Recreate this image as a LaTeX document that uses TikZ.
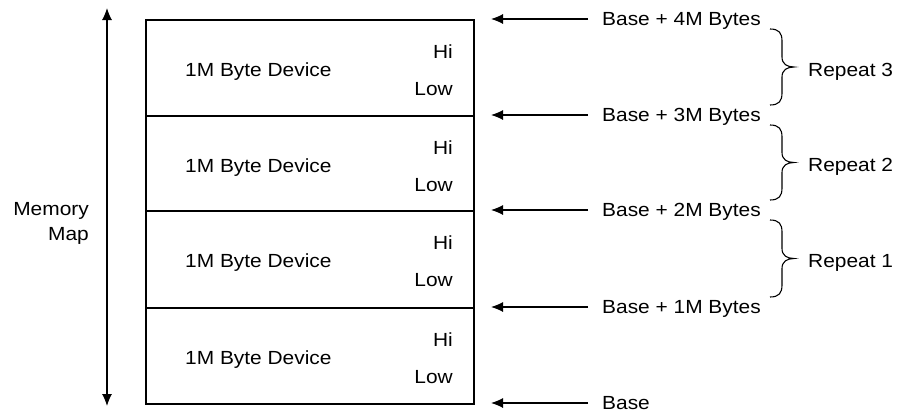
\documentclass[tikz,border=0pt]{standalone}
\usepackage{fontspec}
\setmainfont{Liberation Sans}[FakeStretch=1.1]
\usetikzlibrary{arrows.meta}
\begin{document}
\begin{tikzpicture}[x=1pt,y=-1pt,
  lbl/.style={font=\fontsize{19}{25}\selectfont, inner sep=0pt},
  devbox/.style={draw, line width=2pt, minimum width=328pt, minimum height=96pt, inner sep=0pt},
  ptr/.style={line width=1.1pt, -{Latex[length=12pt,width=10pt]}},
  dbl/.style={line width=1.1pt, {Latex[length=12pt,width=10pt]}-{Latex[length=12pt,width=10pt]}},
  brc/.style={line width=1.1pt}
]
\useasboundingbox (0,0) rectangle (913,415);
% device boxes
\foreach \i/\t in {1/19,2/115,3/210,4/307}{
  \pgfmathsetmacro{\h}{(\i==4)?96:((\i==3)?97:(\i==2?95:96))}
  \node[devbox, minimum height=\h pt, anchor=north west] (dev\i) at (145,\t) {};
  \node[lbl, anchor=base west] (name\i) at (185,\t+57) {1M Byte Device};
  \node[lbl, anchor=base east] (hi\i) at (453,\t+39) {Hi};
  \node[lbl, anchor=base east] (low\i) at (453,\t+76) {Low};
}
% memory map arrow
\coordinate (mtop) at (107,8);
\coordinate (mbot) at (107,406);
\draw[dbl] (mtop) -- (mbot);
\node[lbl, align=right, anchor=east] (mm) at (89,223) {Memory\\Map};
% address pointers
\foreach \k/\y/\txt in {4/19/{Base + 4M Bytes},3/115/{Base + 3M Bytes},2/210/{Base + 2M Bytes},1/307/{Base + 1M Bytes},0/403/{Base}}{
  \node[lbl, anchor=base west] (addr\k) at (602,\y+6) {\txt};
  \coordinate (tip\k) at (491,\y);
  \coordinate (tail\k) at (588,\y);
  \draw[ptr] (tail\k) -- (tip\k);
}
% braces
\foreach \n/\a/\b in {3/19/115,2/115/210,1/210/307}{
  \pgfmathsetmacro{\t}{\a+10}
  \pgfmathsetmacro{\bb}{\b-10}
  \pgfmathsetmacro{\c}{(\a+\b)/2}
  \draw[brc] (770,\t) .. controls (779,\t) and (782,\t+4) .. (782,\t+12)
     -- (782,\c-10) .. controls (782,\c-3) and (787,\c) .. (794,\c)
     .. controls (787,\c) and (782,\c+3) .. (782,\c+10)
     -- (782,\bb-12) .. controls (782,\bb-4) and (779,\bb) .. (770,\bb);
  \coordinate (btip\n) at (794,\c);
  \node[lbl, anchor=base west] (rep\n) at (808,\c+9) {Repeat \n};
}
\end{tikzpicture}
\end{document}
